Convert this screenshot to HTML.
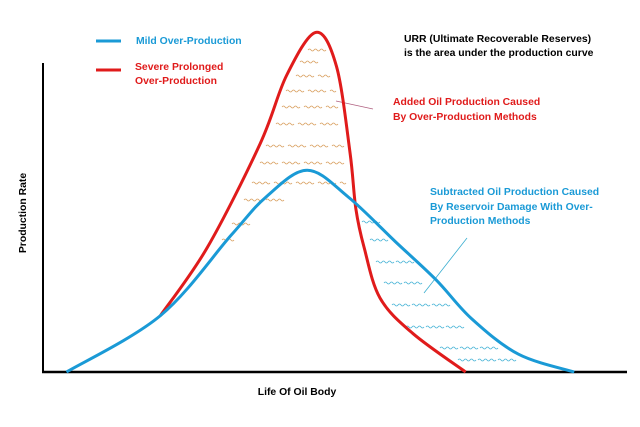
<!DOCTYPE html>
<html><head><meta charset="utf-8"><style>
html,body{margin:0;padding:0;background:#fff;width:640px;height:427px;overflow:hidden}
svg{display:block}
text{font-family:"Liberation Sans",sans-serif;font-weight:bold;font-size:10.4px}
</style></head><body>
<svg id="chart" width="640" height="427" viewBox="0 0 640 427" xmlns="http://www.w3.org/2000/svg">
<line x1="43" y1="63" x2="43" y2="372" stroke="#000" stroke-width="2"/>
<line x1="42" y1="372" x2="627" y2="372" stroke="#000" stroke-width="2.5"/>
<text transform="translate(26,213) rotate(-90)" text-anchor="middle" font-size="9.5">Production Rate</text>
<text x="297" y="395" text-anchor="middle">Life Of Oil Body</text>
<line x1="96" y1="41" x2="121" y2="41" stroke="#1a9ad6" stroke-width="3"/>
<text x="136" y="44" fill="#1a9ad6">Mild Over-Production</text>
<line x1="96" y1="70" x2="121" y2="70" stroke="#e01b1b" stroke-width="3"/>
<text x="135" y="70" fill="#e01b1b"><tspan x="135">Severe Prolonged</tspan><tspan x="135" y="84">Over-Production</tspan></text>
<text x="404" y="42" fill="#000"><tspan x="404">URR (Ultimate Recoverable Reserves)</tspan><tspan x="404" y="56">is the area under the production curve</tspan></text>
<text x="393" y="105" fill="#e01b1b"><tspan x="393">Added Oil Production Caused</tspan><tspan x="393" y="120">By Over-Production Methods</tspan></text>
<text x="430" y="195" fill="#1a9ad6"><tspan x="430">Subtracted Oil Production Caused</tspan><tspan x="430" y="210">By Reservoir Damage With Over-</tspan><tspan x="430" y="224">Production Methods</tspan></text>
<line x1="336" y1="101" x2="373" y2="109" stroke="#b06080" stroke-width="0.8"/>
<line x1="467" y1="238" x2="424" y2="293" stroke="#3aaed0" stroke-width="0.8"/>
<g id="waves"></g>
<g id="series"></g>
</svg>
<script>
const mildTime=[4,20,32,38,45,52,60,67,73,81,90.5];
const mildRate=[0,19,46,59,68,59,44,31,18,6,0];
const severeTime=[20,28,37,41.5,46.5,50,52.3,53.3,54.7,57.4,63,72];
const severeRate=[19,42,77,100,114.5,103,74,55,42,25,13,0];
const X0=43,X1=630,Y0=372,Y1=63;
function xs(t){return X0+t/100*(X1-X0);}
function ys(r){return Y0-r/100*(Y0-Y1)*0.96;}
function smooth(pts){
 let d="M"+pts[0][0]+","+pts[0][1];
 for(let i=0;i<pts.length-1;i++){
  const p0=pts[Math.max(0,i-1)],p1=pts[i],p2=pts[i+1],p3=pts[Math.min(pts.length-1,i+2)];
  const c1=[p1[0]+(p2[0]-p0[0])/6,p1[1]+(p2[1]-p0[1])/6];
  const c2=[p2[0]-(p3[0]-p1[0])/6,p2[1]-(p3[1]-p1[1])/6];
  d+=" C"+c1.join(",")+" "+c2.join(",")+" "+p2.join(",");
 }
 return d;
}
const NS="http://www.w3.org/2000/svg";
const g=document.getElementById("series");
function line(t,r,color,name){
 const p=document.createElementNS(NS,"path");
 p.setAttribute("d",smooth(t.map((v,i)=>[xs(v),ys(r[i])])));
 p.setAttribute("fill","none");p.setAttribute("stroke",color);p.setAttribute("stroke-width","3");
 p.setAttribute("stroke-linejoin","round");
 
 
 g.appendChild(p);
}
line(severeTime,severeRate,"#e01b1b","severe-overproduction-line");
line(mildTime,mildRate,"#1a9ad6","mild-overproduction-line");
const wg=document.getElementById("waves");
function wave(x,y,w,c){
 const p=document.createElementNS(NS,"path");
 let d="M"+x+","+y;
 for(let i=0;i<w;i+=6){d+=" q1.5,-2 3,0 q1.5,2 3,0";}
 p.setAttribute("d",d);p.setAttribute("fill","none");p.setAttribute("stroke",c);p.setAttribute("stroke-width","0.8");
 
 
 wg.appendChild(p);
}
const orange="#d9a060",cyan="#48b4d6";
[[308,50,14],[300,62,22],[296,76,30],[286,91,50],[282,107,55],[276,124,60],[266,146,76],[260,163,80],[252,183,90],[244,200,40],[232,224,20],[222,240,10]].forEach(a=>{
 for(let x=a[0];x<a[0]+a[2];x+=22)wave(x,a[1],Math.min(14,a[0]+a[2]-x),orange);
});
[[362,222,8],[370,240,20],[376,262,30],[384,283,40],[392,305,50],[406,327,60],[440,348,60],[458,360,50]].forEach(a=>{
 for(let x=a[0];x<a[0]+a[2];x+=20)wave(x,a[1],14,cyan);
});
</script>
</body></html>
